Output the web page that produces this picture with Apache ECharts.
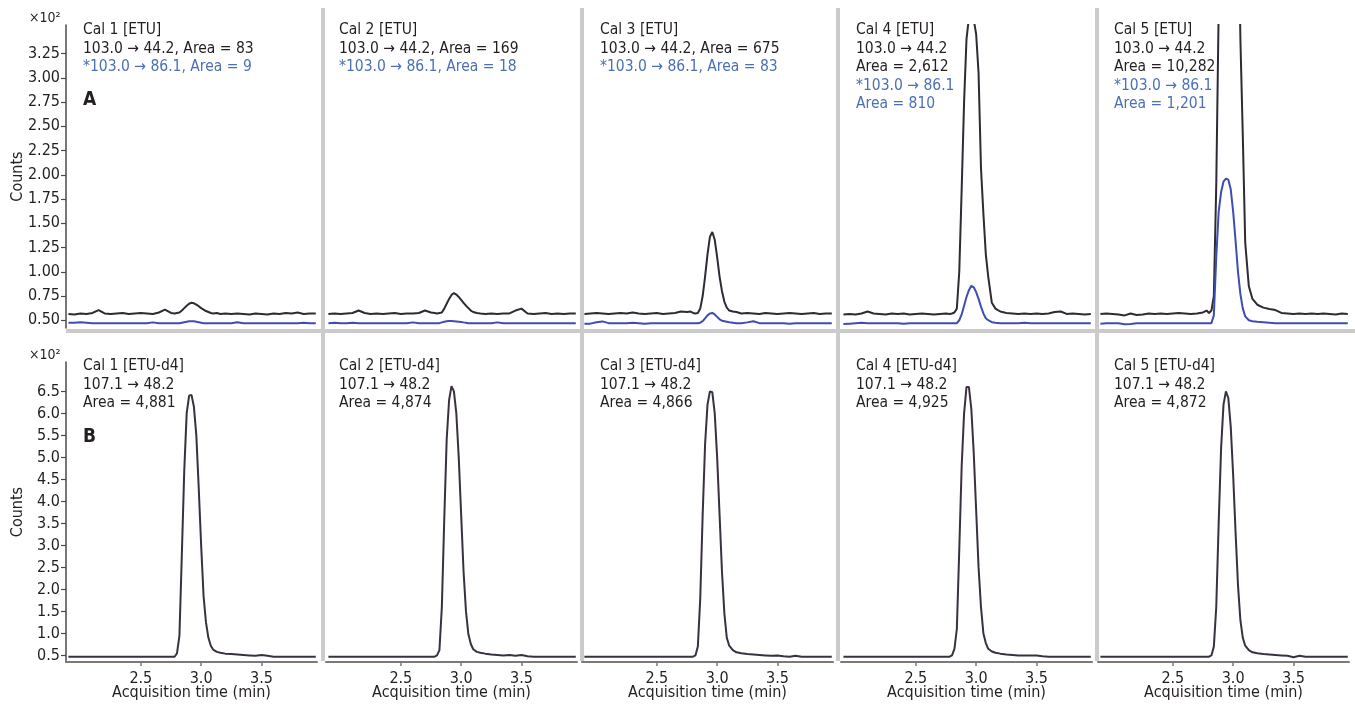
<!DOCTYPE html>
<html><head><meta charset="utf-8">
<script src="https://cdn.jsdelivr.net/npm/echarts@6/dist/echarts.min.js"></script>
<style>html,body{margin:0;padding:0;background:#fff}#c{width:1355px;height:708px}</style>
</head><body><div id="c"></div><script>
// acquisition time (min)
const time = [1.90,1.95,2.00,2.05,2.10,2.15,2.20,2.25,2.30,2.35,2.40,2.45,2.50,2.55,2.60,2.65,2.70,2.75,
  2.78,2.80,2.82,2.84,2.86,2.88,2.90,2.92,2.94,2.96,2.98,3.00,3.02,3.04,3.06,3.08,3.10,3.13,3.16,3.20,
  3.25,3.30,3.35,3.40,3.45,3.50,3.55,3.60,3.65,3.70,3.75,3.80,3.85,3.90,3.95];

// ETU quantifier 103.0 -> 44.2 (counts x10^2)
const etuQuant1 = [0.565,0.560,0.570,0.565,0.575,0.605,0.570,0.565,0.570,0.575,0.565,0.570,0.575,0.570,0.565,0.580,0.610,0.575,
  0.570,0.575,0.580,0.600,0.625,0.650,0.670,0.680,0.675,0.660,0.645,0.625,0.610,0.595,0.585,0.575,0.570,0.575,0.565,0.570,
  0.565,0.570,0.565,0.560,0.570,0.565,0.560,0.570,0.565,0.575,0.570,0.580,0.565,0.570,0.570];
const etuQuant2 = [0.565,0.570,0.565,0.570,0.575,0.600,0.575,0.565,0.570,0.565,0.570,0.575,0.565,0.570,0.570,0.575,0.600,0.580,
  0.575,0.570,0.575,0.580,0.620,0.670,0.720,0.760,0.780,0.765,0.740,0.710,0.680,0.650,0.625,0.600,0.585,0.575,0.570,0.565,
  0.570,0.565,0.570,0.570,0.600,0.620,0.570,0.565,0.570,0.575,0.565,0.570,0.565,0.570,0.570];
const etuQuant3 = [0.565,0.570,0.575,0.570,0.565,0.570,0.575,0.570,0.580,0.570,0.565,0.570,0.575,0.565,0.570,0.575,0.590,0.585,
  0.590,0.575,0.570,0.575,0.620,0.750,0.950,1.180,1.360,1.410,1.330,1.150,0.950,0.800,0.690,0.630,0.600,0.590,0.585,0.570,
  0.575,0.570,0.565,0.575,0.570,0.565,0.570,0.575,0.570,0.565,0.570,0.575,0.565,0.570,0.570];
const etuQuant4 = [0.560,0.565,0.560,0.570,0.590,0.570,0.565,0.560,0.570,0.565,0.570,0.560,0.565,0.570,0.565,0.560,0.565,0.570,
  0.565,0.570,0.580,0.620,1.000,1.850,2.750,3.400,3.620,3.660,3.600,3.450,3.050,2.070,1.600,1.180,0.950,0.680,0.620,0.590,
  0.575,0.570,0.565,0.570,0.565,0.570,0.565,0.570,0.585,0.590,0.565,0.570,0.565,0.560,0.565];
const etuQuant5 = [0.565,0.570,0.565,0.560,0.550,0.570,0.555,0.560,0.570,0.565,0.570,0.565,0.570,0.575,0.570,0.565,0.570,0.580,
  0.600,0.575,0.600,0.750,1.900,3.700,6.500,9.500,11.50,12.00,11.50,9.500,7.000,5.000,3.400,2.400,1.300,0.850,0.720,0.660,
  0.630,0.615,0.605,0.575,0.570,0.565,0.570,0.565,0.570,0.565,0.570,0.565,0.560,0.570,0.565];

// ETU qualifier *103.0 -> 86.1
const etuQual1 = [0.475,0.475,0.480,0.475,0.470,0.470,0.470,0.470,0.470,0.470,0.470,0.470,0.470,0.470,0.478,0.470,0.470,0.470,
  0.470,0.470,0.470,0.475,0.480,0.485,0.490,0.490,0.490,0.485,0.480,0.475,0.470,0.470,0.470,0.470,0.470,0.470,0.470,0.470,
  0.470,0.480,0.470,0.470,0.470,0.470,0.470,0.470,0.470,0.470,0.470,0.470,0.475,0.470,0.470];
const etuQual2 = [0.470,0.475,0.470,0.470,0.475,0.470,0.470,0.470,0.470,0.470,0.470,0.470,0.470,0.470,0.478,0.470,0.470,0.470,
  0.470,0.470,0.470,0.478,0.485,0.490,0.492,0.492,0.490,0.488,0.485,0.482,0.478,0.475,0.470,0.470,0.470,0.470,0.470,0.470,
  0.470,0.478,0.470,0.470,0.470,0.470,0.470,0.470,0.470,0.470,0.470,0.470,0.470,0.470,0.470];
const etuQual3 = [0.465,0.465,0.480,0.488,0.470,0.468,0.470,0.470,0.475,0.470,0.465,0.470,0.470,0.470,0.470,0.470,0.470,0.470,
  0.470,0.470,0.470,0.470,0.475,0.490,0.520,0.550,0.570,0.575,0.560,0.535,0.510,0.495,0.490,0.485,0.480,0.475,0.470,0.470,
  0.478,0.490,0.470,0.470,0.470,0.470,0.470,0.465,0.470,0.470,0.470,0.470,0.470,0.470,0.470];
const etuQual4 = [0.460,0.465,0.470,0.475,0.470,0.470,0.470,0.470,0.470,0.470,0.465,0.470,0.470,0.470,0.470,0.470,0.470,0.470,
  0.470,0.470,0.470,0.470,0.500,0.560,0.650,0.740,0.810,0.855,0.840,0.790,0.720,0.640,0.570,0.520,0.500,0.480,0.475,0.470,
  0.470,0.470,0.470,0.475,0.470,0.470,0.470,0.470,0.470,0.470,0.470,0.470,0.470,0.470,0.470];
const etuQual5 = [0.465,0.470,0.470,0.470,0.458,0.462,0.470,0.470,0.470,0.470,0.470,0.470,0.470,0.470,0.470,0.470,0.470,0.470,
  0.470,0.470,0.470,0.550,1.150,1.620,1.820,1.930,1.960,1.950,1.850,1.620,1.320,1.000,0.770,0.620,0.540,0.500,0.490,0.485,
  0.480,0.475,0.470,0.470,0.470,0.470,0.470,0.470,0.470,0.470,0.470,0.470,0.470,0.470,0.470];

// ETU-d4 107.1 -> 48.2
const etuD4_1 = [0.47,0.47,0.47,0.47,0.47,0.47,0.47,0.47,0.47,0.47,0.47,0.47,0.47,0.47,0.47,0.47,0.47,0.47,
  0.470,0.550,0.950,2.800,4.700,6.000,6.400,6.420,6.150,5.500,4.300,3.000,1.850,1.250,0.900,0.720,0.630,0.580,0.560,0.540,
  0.530,0.520,0.510,0.500,0.490,0.510,0.490,0.470,0.470,0.470,0.470,0.470,0.470,0.470,0.470];
const etuD4_2 = [0.47,0.47,0.47,0.47,0.47,0.47,0.47,0.47,0.47,0.47,0.47,0.47,0.47,0.47,0.47,0.47,0.47,0.47,
  0.470,0.500,0.620,1.600,3.600,5.400,6.300,6.620,6.500,6.000,5.000,3.700,2.400,1.500,0.980,0.760,0.640,0.580,0.560,0.540,
  0.520,0.510,0.500,0.510,0.490,0.510,0.480,0.470,0.470,0.470,0.470,0.470,0.470,0.470,0.470];
const etuD4_3 = [0.47,0.47,0.47,0.47,0.47,0.47,0.47,0.47,0.47,0.47,0.47,0.47,0.47,0.47,0.47,0.47,0.47,0.47,
  0.470,0.470,0.500,0.700,1.800,3.700,5.300,6.200,6.500,6.480,6.000,5.000,3.700,2.400,1.450,0.900,0.720,0.620,0.570,0.550,
  0.530,0.520,0.510,0.500,0.490,0.500,0.480,0.470,0.490,0.470,0.470,0.470,0.470,0.470,0.470];
const etuD4_4 = [0.47,0.47,0.47,0.47,0.47,0.47,0.47,0.47,0.47,0.47,0.47,0.47,0.47,0.47,0.47,0.47,0.47,0.47,
  0.470,0.500,0.650,1.100,2.900,4.800,6.000,6.600,6.600,6.100,5.100,3.800,2.500,1.600,1.000,0.780,0.650,0.590,0.560,0.540,
  0.520,0.510,0.500,0.500,0.500,0.500,0.480,0.470,0.470,0.470,0.470,0.470,0.470,0.470,0.470];
const etuD4_5 = [0.47,0.47,0.47,0.47,0.47,0.47,0.47,0.47,0.47,0.47,0.47,0.47,0.47,0.47,0.47,0.47,0.47,0.47,
  0.470,0.470,0.500,0.700,1.600,3.500,5.200,6.200,6.500,6.350,5.700,4.600,3.300,2.100,1.300,0.900,0.720,0.620,0.570,0.550,
  0.530,0.520,0.510,0.500,0.490,0.460,0.490,0.470,0.470,0.470,0.470,0.470,0.470,0.470,0.470];

// tick labels
const xTickValues = [2.5, 3.0, 3.5];
const yTickTop = [0.50,0.75,1.00,1.25,1.50,1.75,2.00,2.25,2.50,2.75,3.00,3.25];
const yTickBottom = [0.5,1.0,1.5,2.0,2.5,3.0,3.5,4.0,4.5,5.0,5.5,6.0,6.5];

// panel annotations: [text, colour key]
const topNotes = [
  [["Cal 1 [ETU]","k"],["103.0 → 44.2, Area = 83","k"],["*103.0 → 86.1, Area = 9","b"]],
  [["Cal 2 [ETU]","k"],["103.0 → 44.2, Area = 169","k"],["*103.0 → 86.1, Area = 18","b"]],
  [["Cal 3 [ETU]","k"],["103.0 → 44.2, Area = 675","k"],["*103.0 → 86.1, Area = 83","b"]],
  [["Cal 4 [ETU]","k"],["103.0 → 44.2","k"],["Area = 2,612","k"],["*103.0 → 86.1","b"],["Area = 810","b"]],
  [["Cal 5 [ETU]","k"],["103.0 → 44.2","k"],["Area = 10,282","k"],["*103.0 → 86.1","b"],["Area = 1,201","b"]]
];
const bottomNotes = [
  ["Cal 1 [ETU-d4]","107.1 → 48.2","Area = 4,881"],
  ["Cal 2 [ETU-d4]","107.1 → 48.2","Area = 4,874"],
  ["Cal 3 [ETU-d4]","107.1 → 48.2","Area = 4,866"],
  ["Cal 4 [ETU-d4]","107.1 → 48.2","Area = 4,925"],
  ["Cal 5 [ETU-d4]","107.1 → 48.2","Area = 4,872"]
];

const quantSeries = [etuQuant1, etuQuant2, etuQuant3, etuQuant4, etuQuant5];
const qualSeries = [etuQual1, etuQual2, etuQual3, etuQual4, etuQual5];
const d4Series = [etuD4_1, etuD4_2, etuD4_3, etuD4_4, etuD4_5];

// ---------- layout ----------
const FONT = '"DejaVu Sans Condensed", "Liberation Sans", sans-serif';
const panelLeft = [66, 326, 582, 841, 1098];
const panelWidth = 251;
const textX = [83, 339, 600, 856, 1114];
const TXT = '#231f20', BLUE_TXT = '#4b70b6';
const C_QUANT = '#2f2a33', C_QUAL = '#3d4db3', C_D4 = '#3a3140';
const AX_FS = 16, NOTE_FS = 15.5;

const grids = [], xAxes = [], yAxes = [], series = [];
for (let r = 0; r < 2; r++) {
  for (let i = 0; i < 5; i++) {
    const idx = r * 5 + i;
    grids.push(r === 0
      ? {left: panelLeft[i], width: panelWidth, top: 25, height: 303}
      : {left: panelLeft[i], width: panelWidth, top: 362, height: 300});
    xAxes.push({
      gridIndex: idx, type: 'value', min: 1.88, max: 3.96, show: r === 1,
      splitLine: {show: false},
      axisLine: {show: true, lineStyle: {color: '#7a7a7a', width: 2}},
      axisTick: {show: true, customValues: xTickValues, length: 4, lineStyle: {color: '#7a7a7a', width: 1.5}},
      axisLabel: {customValues: xTickValues, formatter: v => v.toFixed(1), color: TXT,
        fontFamily: FONT, fontSize: AX_FS, margin: 9},
      name: 'Acquisition time (min)', nameLocation: 'middle', nameGap: 23, nameMoveOverlap: false,
      nameTextStyle: {color: TXT, fontFamily: FONT, fontSize: AX_FS}
    });
    const ticks = r === 0 ? yTickTop : yTickBottom;
    yAxes.push({
      gridIndex: idx, type: 'value',
      min: r === 0 ? 0.42 : 0.35, max: r === 0 ? 3.545 : 7.168,
      show: i === 0,
      splitLine: {show: false},
      axisLine: {show: true, lineStyle: {color: '#4a4a4a', width: 1.5}},
      axisTick: {show: true, customValues: ticks, length: 5, lineStyle: {color: '#4a4a4a', width: 1.2}},
      axisLabel: {customValues: ticks, formatter: v => v.toFixed(r === 0 ? 2 : 1), color: TXT,
        fontFamily: FONT, fontSize: AX_FS, margin: 6},
      name: 'Counts', nameLocation: 'middle', nameGap: 40, nameRotate: 90, nameMoveOverlap: false,
      nameTextStyle: {color: TXT, fontFamily: FONT, fontSize: AX_FS}
    });
  }
}
const mk = (arr, idx, color) => ({
  type: 'line', xAxisIndex: idx, yAxisIndex: idx, symbol: 'none', showSymbol: false,
  clip: true, silent: true, animation: false,
  lineStyle: {color: color, width: 2},
  data: time.map((t, k) => [t, arr[k]])
});
for (let i = 0; i < 5; i++) {
  series.push(mk(quantSeries[i], i, C_QUANT));
  series.push(mk(qualSeries[i], i, C_QUAL));
  series.push(mk(d4Series[i], 5 + i, C_D4));
}

// graphics: separators + annotations
const graphic = [];
const SEP = '#cbcbcb';
[321, 580, 836, 1095].forEach(x => graphic.push({type: 'rect', shape: {x: x, y: 8, width: 4, height: 653}, style: {fill: SEP}, silent: true, z: 1}));
graphic.push({type: 'rect', shape: {x: 66, y: 329, width: 1289, height: 4}, style: {fill: SEP}, silent: true, z: 1});
const txt = (x, y, text, color, size, weight) => ({
  type: 'text', x: x, y: y, silent: true, z: 10,
  style: {text: text, fill: color, fontFamily: FONT, fontSize: size, fontWeight: weight || 'normal',
    align: 'left', verticalAlign: 'middle'}
});
const topLineY = [30, 48.5, 67, 85.5, 104];
const botLineY = [366, 384.5, 403];
topNotes.forEach((lines, i) => lines.forEach((ln, j) => graphic.push(txt(textX[i], topLineY[j], ln[0], ln[1] === 'b' ? BLUE_TXT : TXT, NOTE_FS))));
bottomNotes.forEach((lines, i) => lines.forEach((ln, j) => graphic.push(txt(textX[i], botLineY[j], ln, TXT, NOTE_FS))));
graphic.push(txt(83, 100, 'A', TXT, 19, 'bold'));
graphic.push(txt(83, 437, 'B', TXT, 19, 'bold'));
graphic.push(txt(29, 18, '×10²', TXT, 14));
graphic.push(txt(29, 355, '×10²', TXT, 14));

const chart = echarts.init(document.getElementById('c'), null, {renderer: 'canvas'});
chart.setOption({
  animation: false, backgroundColor: '#ffffff',
  grid: grids, xAxis: xAxes, yAxis: yAxes, series: series, graphic: graphic
});
</script></body></html>
